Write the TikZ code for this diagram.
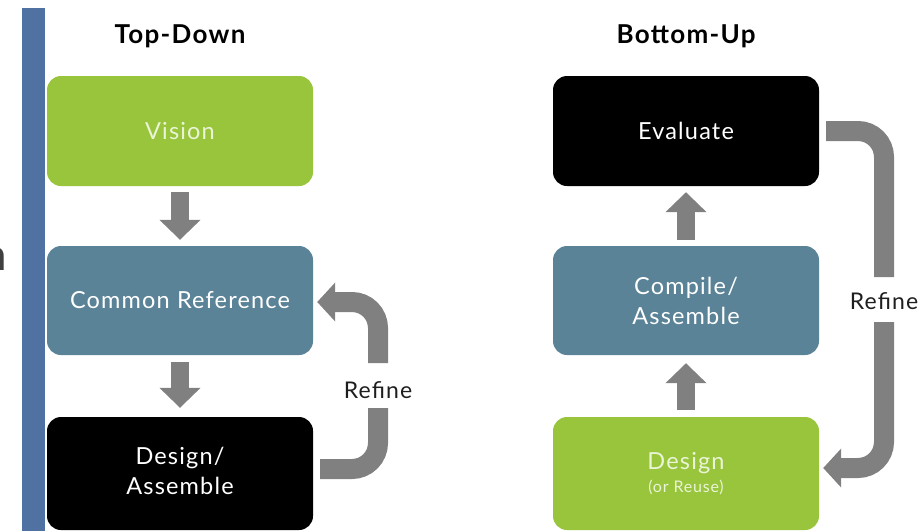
\documentclass[tikz,border=0pt]{standalone}
\usepackage{fontspec}
\setmainfont{Lato}[LetterSpace=5]
\usetikzlibrary{arrows.meta,calc}

\definecolor{barblue}{HTML}{4F72A2}
\definecolor{leafgreen}{HTML}{98C53C}
\definecolor{slateblue}{HTML}{5A8398}
\definecolor{arrowgray}{HTML}{808080}
\definecolor{greentext}{HTML}{EAF4D6}
\definecolor{inktext}{HTML}{1E1E1E}

\begin{document}
\begin{tikzpicture}[x=1pt,y=-1pt,
  box/.style={rounded corners=14pt, minimum width=266pt, inner sep=0pt,
    align=center, text=white, font=\fontsize{23.5}{30}\selectfont},
  heading/.style={font=\fontsize{26}{30}\selectfont\bfseries, text=black},
  note/.style={font=\fontsize{23}{26}\selectfont, text=inktext, inner sep=0pt},
  flow/.style={line width=18pt, draw=arrowgray,
    -{Triangle[width=40pt,length=20pt]}},
  loop/.style={line width=20pt, draw=arrowgray, rounded corners=26pt},
  loophead/.style={-{Triangle[width=38pt,length=18pt]}}]

  \useasboundingbox (0,0) rectangle (921,531);

  % side bar and the cut-off letter beside it
  \fill[barblue] (22,8) rectangle (45,531);
  \node[anchor=base east, inner sep=0pt, text=black!75,
    font=\fontsize{44}{44}\selectfont] (edge) at (7,270) {n};

  % headings
  \node[heading] (tdtitle) at (180,36) {Top-Down};
  \node[heading] (butitle) at (686,36) {Bottom-Up};

  % top-down column
  \node[box, fill=leafgreen, text=greentext, minimum height=110pt]
    (vision) at (180,131) {Vision};
  \node[box, fill=slateblue, minimum height=109pt]
    (common) at (180,300.5) {Common Reference};
  \node[box, fill=black, minimum height=113pt]
    (design) at (180,473.5)
    {\raisebox{4pt}{\begin{tabular}{@{}c@{}}Design/\\Assemble\end{tabular}}};

  % bottom-up column
  \node[box, fill=black, minimum height=110pt]
    (evaluate) at (686,131) {Evaluate};
  \node[box, fill=slateblue, minimum height=109pt]
    (compile) at (686,300.5) {Compile/\\Assemble};
  \node[box, fill=leafgreen, text=greentext, minimum height=113pt]
    (reuse) at (686,473.5) {Design\\[-7pt]{\fontsize{16}{18}\selectfont(or Reuse)}};

  % refine labels
  \node[note] (refineL) at (378,390) {Refine};
  \node[note] (refineR) at (884,301) {Refine};

  % straight flow arrows
  \draw[flow] ($(vision.south)+(0,6)$) -- ($(common.north)+(0,-6)$);
  \draw[flow] ($(common.south)+(0,7)$) -- ($(design.north)+(0,-9)$);
  \draw[flow] ($(reuse.north)+(0,-7)$) -- ($(compile.south)+(0,8)$);
  \draw[flow] ($(compile.north)+(0,-6)$) -- ($(evaluate.south)+(0,6)$);

  % top-down refine loop
  \draw[loop] ($(design.east)+(7,-4.5)$) -| ($(refineL)+(0,18)$);
  \draw[loop, loophead] ($(refineL)+(0,-27)$) |- ($(common.east)+(4,1.5)$);

  % bottom-up refine loop
  \draw[loop] ($(evaluate.east)+(7,0)$) -| ($(refineR)+(0,-24)$);
  \draw[loop, loophead] ($(refineR)+(0,21)$) |- ($(reuse.east)+(4,-5.5)$);
\end{tikzpicture}
\end{document}
